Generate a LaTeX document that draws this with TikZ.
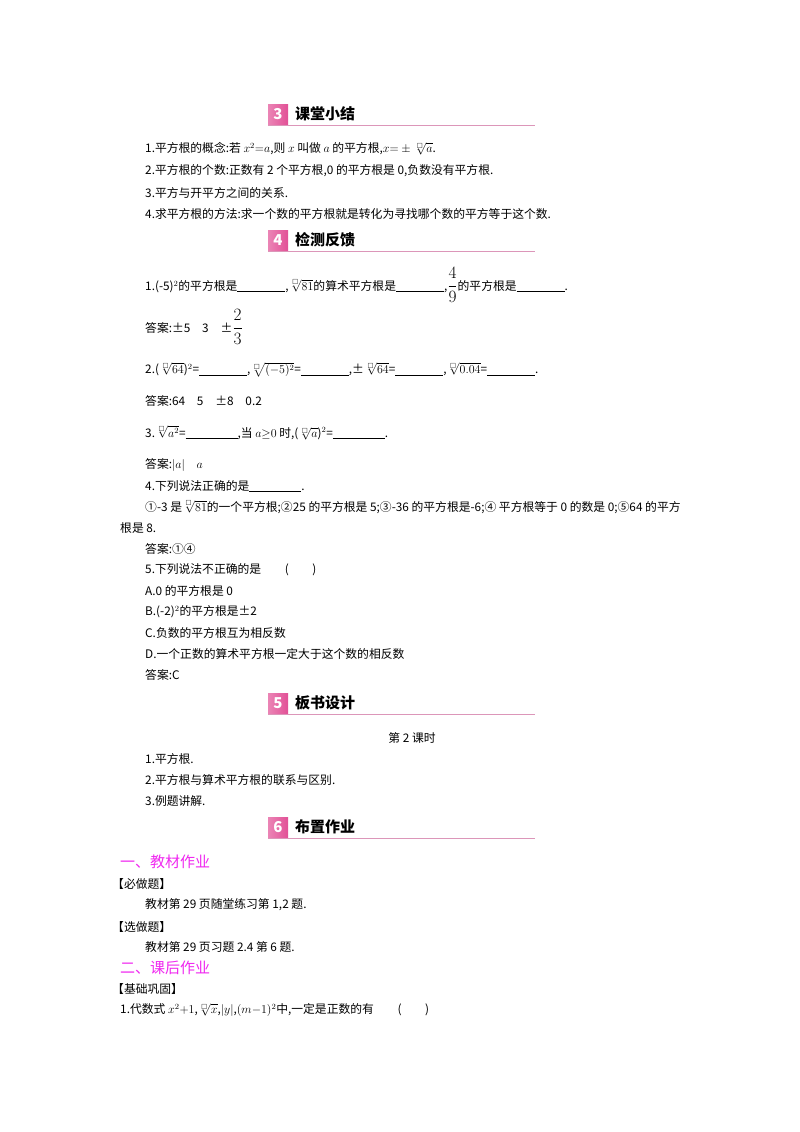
\documentclass[tikz,border=0pt]{standalone}
\usepackage{amsmath,amssymb}
\usepackage{fontspec}
\setmainfont{Noto Sans CJK SC}
\definecolor{hdr}{RGB}{226,80,150}
\definecolor{hline}{RGB}{220,150,185}
\definecolor{mag}{RGB}{240,40,240}
\newcommand{\bl}[1][40pt]{\rule[-1.5pt]{#1}{0.5pt}}
\newcommand{\rt}[1]{\sqrt[\scriptscriptstyle\square]{#1}}
\newcommand{\bfr}[2]{\text{\fontsize{17}{17}\selectfont$\dfrac{#1}{#2}$}}
\begin{document}
\begin{tikzpicture}[x=1pt,y=-1pt,
  txt/.style={anchor=west,inner sep=0pt,font=\fontsize{11.8}{13}\selectfont},
  hd/.style={anchor=west,inner sep=0pt,font=\fontsize{15}{17}\selectfont\bfseries},
  sec/.style={anchor=west,inner sep=0pt,font=\fontsize{15}{17}\selectfont,text=mag}]
\useasboundingbox[fill=white] (0,0) rectangle (800,1132);
\foreach \n/\y/\t in {3/114/课堂小结,4/240/检测反馈,5/703/板书设计,6/827/布置作业}{
  \shade[left color=hdr!70!white,right color=hdr] (268,\y-10) rectangle (288,\y+10);
  \node[inner sep=0pt,text=white,font=\fontsize{15}{15}\selectfont\bfseries\itshape] (n\n) at (278,\y) {\n};
  \node[hd] (t\n) at (295,\y) {\t};
  \draw[hline,line width=1pt] (268,\y+11) -- (535,\y+11);
}
\node[txt] (a1) at (145,149) {1.平方根的概念:若 $x^2{=}a$,则 $x$ 叫做 $a$ 的平方根,$x{=}\pm\rt{a}$.};
\node[txt] (a2) at (145,171) {2.平方根的个数:正数有 2 个平方根,0 的平方根是 0,负数没有平方根.};
\node[txt] (a3) at (145,193) {3.平方与开平方之间的关系.};
\node[txt] (a4) at (145,214) {4.求平方根的方法:求一个数的平方根就是转化为寻找哪个数的平方等于这个数.};
\node[txt] (b1) at (145,285) {1.(-5)$^2$的平方根是\bl[48pt],$\rt{81}$的算术平方根是\bl[48pt],$\bfr{4}{9}$的平方根是\bl[48pt].};
\node[txt] (b1a) at (145,327) {答案:±5\quad 3\quad ±$\bfr{2}{3}$};
\node[txt] (b2) at (145,370) {2.($\rt{64}$)$^2$=\bl[48pt],$\rt{(-5)^2}$=\bl[48pt],±$\rt{64}$=\bl[48pt],$\rt{0.04}$=\bl[48pt].};
\node[txt] (b2a) at (145,401) {答案:64\quad 5\quad ±8\quad 0.2};
\node[txt] (b3) at (145,433) {3.$\rt{a^2}$=\bl[52pt],当 $a{\geq}0$ 时,($\rt{a}$)$^2$=\bl[52pt].};
\node[txt] (b3a) at (145,465) {答案:$|a|$\quad $a$};
\node[txt] (b4) at (145,486) {4.下列说法正确的是\bl[52pt].};
\node[txt] (b4b) at (145,507) {①-3 是$\rt{81}$的一个平方根;②25 的平方根是 5;③-36 的平方根是-6;④ 平方根等于 0 的数是 0;⑤64 的平方};
\node[txt] (b4c) at (120,528) {根是 8.};
\node[txt] (b4a) at (145,549) {答案:①④};
\node[txt] (b5) at (145,570) {5.下列说法不正确的是\qquad (\qquad)};
\node[txt] (b5A) at (145,591) {A.0 的平方根是 0};
\node[txt] (b5B) at (145,612) {B.(-2)$^2$的平方根是±2};
\node[txt] (b5C) at (145,633) {C.负数的平方根互为相反数};
\node[txt] (b5D) at (145,654) {D.一个正数的算术平方根一定大于这个数的相反数};
\node[txt] (b5a) at (145,675) {答案:C};
\node[txt,anchor=center] (c0) at (412,738) {第 2 课时};
\node[txt] (c1) at (145,759) {1.平方根.};
\node[txt] (c2) at (145,780) {2.平方根与算术平方根的联系与区别.};
\node[txt] (c3) at (145,801) {3.例题讲解.};
\node[sec] (d1) at (120,862) {一、教材作业};
\node[txt] (d2) at (112,884) {【必做题】};
\node[txt] (d3) at (145,905) {教材第 29 页随堂练习第 1,2 题.};
\node[txt] (d4) at (112,927) {【选做题】};
\node[txt] (d5) at (145,947) {教材第 29 页习题 2.4 第 6 题.};
\node[sec] (d6) at (120,968) {二、课后作业};
\node[txt] (d7) at (112,989) {【基础巩固】};
\node[txt] (d8) at (120,1010) {1.代数式 $x^2{+}1$,$\rt{x}$,$|y|$,$(m{-}1)^2$中,一定是正数的有\qquad (\qquad)};
\end{tikzpicture}
\end{document}
